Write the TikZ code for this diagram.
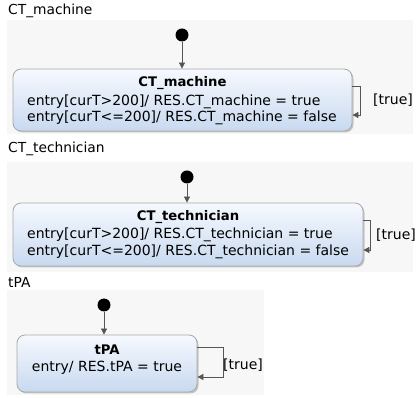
\documentclass[tikz,border=0pt]{standalone}
\usepackage{fontspec}
\setmainfont{DejaVu Sans}
\usetikzlibrary{arrows.meta,shadows}
\definecolor{panelbg}{HTML}{F7F7F7}
\definecolor{boxtop}{HTML}{F6F9FE}
\definecolor{boxbot}{HTML}{C8D9F0}
\definecolor{boxline}{HTML}{A8A8A8}
\definecolor{lineg}{HTML}{555555}
\tikzset{
  panel/.style={fill=panelbg, draw=none},
  ptitle/.style={anchor=west, inner sep=0pt, font=\fontsize{13.8}{16}\selectfont},
  statebox/.style={draw=boxline, rounded corners=8pt, top color=boxtop, bottom color=boxbot,
     drop shadow={shadow xshift=1.5pt, shadow yshift=-1.5pt, opacity=0.35, fill=black!60},
     inner sep=0pt, line width=0.8pt},
  stitle/.style={inner sep=0pt, font=\bfseries\fontsize{13.2}{16}\selectfont},
  sline/.style={anchor=west, inner sep=0pt, font=\fontsize{14}{16}\selectfont},
  initdot/.style={circle, fill=black, minimum size=13pt, inner sep=0pt},
  trans/.style={draw=lineg, line width=0.8pt, -{Triangle[length=6pt,width=6pt]}},
  guard/.style={inner sep=0pt, font=\fontsize{14}{16}\selectfont}
}
\begin{document}
\begin{tikzpicture}[x=1pt,y=-1pt]
\useasboundingbox (0,0) rectangle (416,398);
\fill[white] (0,0) rectangle (416,398);
% panels
\path[panel] (7,20) rectangle (413,134);
\path[panel] (7,162) rectangle (413,272);
\path[panel] (7,290) rectangle (264,395);
\node[ptitle] (t1) at (8,11) {CT\_machine};
\node[ptitle] (t2) at (8,149) {CT\_technician};
\node[ptitle] (t3) at (8,282) {tPA};
% state 1
\node[statebox, minimum width=339pt, minimum height=62pt] (b1) at (182.5,100) {};
\node[stitle] (h1) at (182.5,83) {CT\_machine};
\node[sline] (l1a) at (27,102) {entry[curT>200]/ RES.CT\_machine = true};
\node[sline] (l1b) at (27,118) {entry[curT<=200]/ RES.CT\_machine = false};
\node[initdot] (i1) at (182,35) {};
\draw[trans] (i1) -- (b1.north -| i1);
\draw[trans] ([yshift=14pt]b1.east) -- ++(8,0) |- ([yshift=-15pt]b1.east) coordinate (e1);
\node[guard] (g1) at (393,100) {[true]};
% state 2
\node[statebox, minimum width=350pt, minimum height=63pt] (b2) at (188,234.5) {};
\node[stitle] (h2) at (188,217) {CT\_technician};
\node[sline] (l2a) at (27,235) {entry[curT>200]/ RES.CT\_technician = true};
\node[sline] (l2b) at (27,252) {entry[curT<=200]/ RES.CT\_technician = false};
\node[initdot] (i2) at (187,177) {};
\draw[trans] (i2) -- (b2.north -| i2);
\draw[trans] ([yshift=14.5pt]b2.east) -- ++(7,0) |- ([yshift=-15.5pt]b2.east);
\node[guard] (g2) at (396,235) {[true]};
% state 3
\node[statebox, minimum width=180pt, minimum height=57pt] (b3) at (107,363.5) {};
\node[stitle] (h3) at (107,350) {tPA};
\node[sline, anchor=center] (l3) at (107,368) {entry/ RES.tPA = true};
\node[initdot] (i3) at (104,305) {};
\draw[trans] (i3) -- (b3.north -| i3);
\draw[trans] ([yshift=16.5pt]b3.east) -- ++(26,0) |- ([yshift=-13.5pt]b3.east);
\node[guard] (g3) at (243,365) {[true]};
\end{tikzpicture}
\end{document}
